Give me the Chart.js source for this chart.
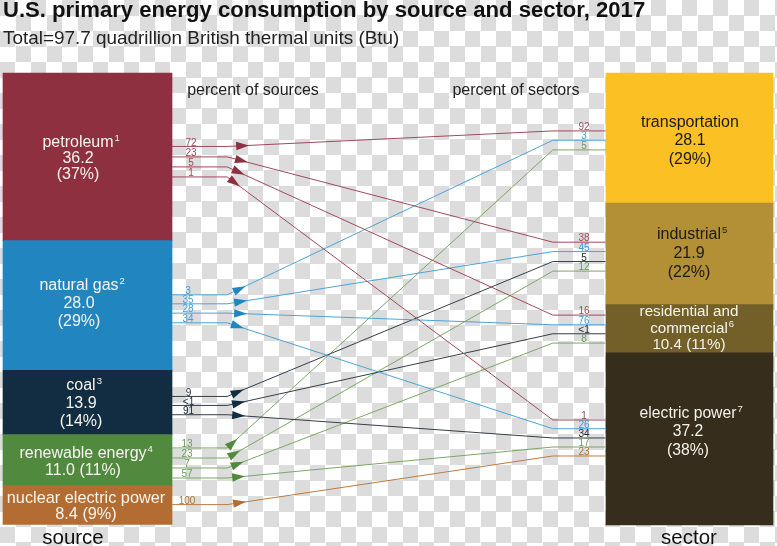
<!DOCTYPE html>
<html>
<head>
<meta charset="utf-8">
<script src="https://cdn.jsdelivr.net/npm/chart.js@4/dist/chart.umd.min.js"></script>
<style>
html,body{margin:0;padding:0;width:777px;height:546px;overflow:hidden;
background:repeating-conic-gradient(#fff 0 25%,#dcdcdc 0 50%) 0 0/31px 31px;}
#wrap{position:absolute;left:0;top:0;width:777px;height:546px;}
</style>
</head>
<body>
<div id="wrap"><canvas id="c" width="777" height="546"></canvas></div>
<script>
// ---- data (quadrillion Btu) ----
const sourceNames = ["petroleum","natural gas","coal","renewable energy","nuclear electric power"];
const sourceNotes = ["1","2","3","4",""];
const sourceValues = [36.2,28.0,13.9,11.0,8.4];
const sourceShares = ["37%","29%","14%","11%","9%"];
const sectorNames = ["transportation","industrial","residential and commercial","electric power"];
const sectorNotes = ["","5","6","7"];
const sectorValues = [28.1,21.9,10.4,37.2];
const sectorShares = ["29%","22%","11%","38%"];
// one entry per flow
const flowSource = [0,0,0,0, 1,1,1,1, 2,2,2, 3,3,3,3, 4];
const flowSector = [0,1,2,3, 0,1,2,3, 1,2,3, 0,1,2,3, 3];
const flowPctOfSource = ["72","23","5","1", "3","35","28","34", "9","<1","91", "13","23","7","57", "100"];
const flowPctOfSector = ["92","38","16","1", "3","45","76","26", "5","<1","34", "5","12","8","17", "23"];
// vertical lane of each flow at either end, in the same quad units as the stacks
const flowLaneSource = [15.86,18.12,20.28,22.44, 47.9,49.84,51.85,53.94, 69.84,71.78,73.79, 80.97,83.13,85.29,87.45, 93.2];
const flowLaneSector = [12.51,36.53,52.28,74.93, 14.52,38.56,54.37,76.81, 40.71,56.31,78.81, 16.61,42.78,58.32,80.76, 82.7];

// ---- style ----
const FONT = '"Liberation Sans", Arial, sans-serif';
const sourceColors = ["#8e303f","#2186c0","#122d41","#518a3f","#b36c31"];
const sectorColors = ["#fbc024","#b39035","#736029","#362d1c"];
const lineColors = ["#a04a58","#4ba4d8","#333f4b","#7aa863","#bb7a42"];
const pctColors = ["#a04a58","#3f9dd4","#222b33","#6c9c55","#b5722f"];
const sectorInk = ["#1a1a14","#1a1a14","#f4f2ea","#f4f2ea"];
// x stages along the flow, in percent of the distance between stack centres
const stageEdgeL = 14.04, stageBendL = 23.2, stageBendR = 77.3, stageEdgeR = 86.05;
const STACK_TOP = 73, STACK_BOTTOM = 21;

function stack(values){
  let t = 0;
  return values.map(v => { const a = t; t += v; return {x:0, y:[a,t]}; });
}
const sourceBars = stack(sourceValues);
const sectorBars = stack(sectorValues).map(b => ({x:100, y:b.y}));

const flowDatasets = flowSource.map((s,i) => ({
  type:'line',
  data:[
    {x:stageEdgeL,y:flowLaneSource[i]},
    {x:stageBendL,y:flowLaneSource[i]},
    {x:stageBendR,y:flowLaneSector[i]},
    {x:stageEdgeR,y:flowLaneSector[i]}
  ],
  borderColor:lineColors[s], borderWidth:1, pointRadius:0, tension:0, clip:false, order:1
}));

const labelPlugin = {
  id:'labels',
  afterDatasetsDraw(chart){
    const ctx = chart.ctx, X = chart.scales.x, Y = chart.scales.y;
    const txt = (s,x,y,font,color,align) => {
      ctx.font = font; ctx.fillStyle = color; ctx.textAlign = align || 'center';
      ctx.textBaseline = 'middle'; ctx.fillText(s,x,y + 1);
    };
    // arrowheads sitting on the slanted part of each flow
    const arrowShift = [0,-1,-4,-8, -3,-2,-2,-5, -5,-4,-4, -10,-8,-5,-4, -3];
    flowSource.forEach((s,i) => {
      const pts = chart.getDatasetMeta(i + 2).data;
      const a = pts[1], b = pts[2];
      const ang = Math.atan2(b.y-a.y, b.x-a.x);
      const cx = X.getPixelForValue(stageBendL) + 15 + arrowShift[i];
      const cy = a.y + (cx-a.x)*Math.tan(ang);
      ctx.save(); ctx.translate(cx,cy); ctx.rotate(ang);
      ctx.beginPath(); ctx.moveTo(7,0); ctx.lineTo(-6,-4.2); ctx.lineTo(-6,4.2); ctx.closePath();
      ctx.fillStyle = sourceColors[s]; ctx.fill(); ctx.restore();
    });
    // percent labels
    const srcLabelX = [191,188,188.5,187,187];
    flowSource.forEach((s,i) => {
      txt(flowPctOfSource[i], srcLabelX[s], Y.getPixelForValue(flowLaneSource[i]) - 4.5, '10px '+FONT, pctColors[s]);
      txt(flowPctOfSector[i], 584, Y.getPixelForValue(flowLaneSector[i]) - 4.5, '10px '+FONT, pctColors[s]);
    });
    // stack labels
    const wrapped = (name,note,lines,cx,cy,lh,ink,font) => {
      lines.forEach((l,k) => {
        const y = cy + (k-(lines.length-1)/2)*lh;
        txt(l,cx,y,font,ink);
        if (k === (lines.noteLine ?? 0) && note){
          const w = ctx.measureText(l).width;
          txt(note,cx+w/2+1,y-4,'9.5px '+FONT,ink,'left');
        }
      });
    };
    const srcF = '16px '+FONT, secF = '16px '+FONT;
    const srcLines = [
      ["petroleum","36.2","(37%)"], ["natural gas","28.0","(29%)"], ["coal","13.9","(14%)"],
      ["renewable energy","11.0 (11%)"], ["nuclear electric power","8.4 (9%)"]];
    const srcCx = [78,79,81,83,86], srcDy = [1,-3.2,0,1,0.5], srcLh = [16,18,18,17,16];
    const srcFonts = [srcF,srcF,srcF,srcF,'16.3px '+FONT];
    srcLines.forEach((L,i) => {
      const b = sourceBars[i].y;
      const cy = (Y.getPixelForValue(b[0])+Y.getPixelForValue(b[1]))/2 + srcDy[i];
      wrapped(sourceNames[i],sourceNotes[i],L,srcCx[i],cy,srcLh[i],"#f6f4ee",srcFonts[i]);
    });
    const secLines = [
      ["transportation","28.1","(29%)"], ["industrial","21.9","(22%)"],
      ["residential and","commercial","10.4 (11%)"], ["electric power","37.2","(38%)"]];
    secLines[2].noteLine = 1;
    const secCx = [690,689,689,688], secDy = [2,-1.7,-1,-8], secLh = [18.5,19,16.5,18.5];
    const secFonts = [secF,secF,'15.2px '+FONT,'15.7px '+FONT];
    secLines.forEach((L,i) => {
      const b = sectorBars[i].y;
      const cy = (Y.getPixelForValue(b[0])+Y.getPixelForValue(b[1]))/2 + secDy[i];
      wrapped(sectorNames[i],sectorNotes[i],L,secCx[i],cy,secLh[i],sectorInk[i],secFonts[i]);
    });
    // headings
    txt("U.S. primary energy consumption by source and sector, 2017",3,10,'bold 22.1px '+FONT,"#111",'left');
    txt("Total=97.7 quadrillion British thermal units (Btu)",3,38,'18.9px '+FONT,"#222",'left');
    txt("percent of sources",253,90,'16px '+FONT,"#222");
    txt("percent of sectors",516,90,'16px '+FONT,"#222");
    txt("source",73,537,'20.5px '+FONT,"#111");
    txt("sector",689,537,'20.5px '+FONT,"#111");
  }
};

new Chart(document.getElementById('c'), {
  data:{datasets:[
    {type:'bar',label:'source',data:sourceBars,backgroundColor:sourceColors,barThickness:169,grouped:false,clip:false,order:2},
    {type:'bar',label:'sector',data:sectorBars,backgroundColor:sectorColors,barThickness:167,grouped:false,clip:false,order:2},
    ...flowDatasets
  ]},
  options:{
    responsive:false, animation:false, events:[],
    layout:{padding:{left:87.5,right:87.5,top:STACK_TOP,bottom:STACK_BOTTOM}},
    scales:{
      x:{type:'linear',min:0,max:100,offset:false,display:false},
      y:{type:'linear',min:0,max:97.6,reverse:true,display:false}
    },
    plugins:{legend:{display:false},tooltip:{enabled:false},title:{display:false}}
  },
  plugins:[labelPlugin]
});
</script>
</body>
</html>
